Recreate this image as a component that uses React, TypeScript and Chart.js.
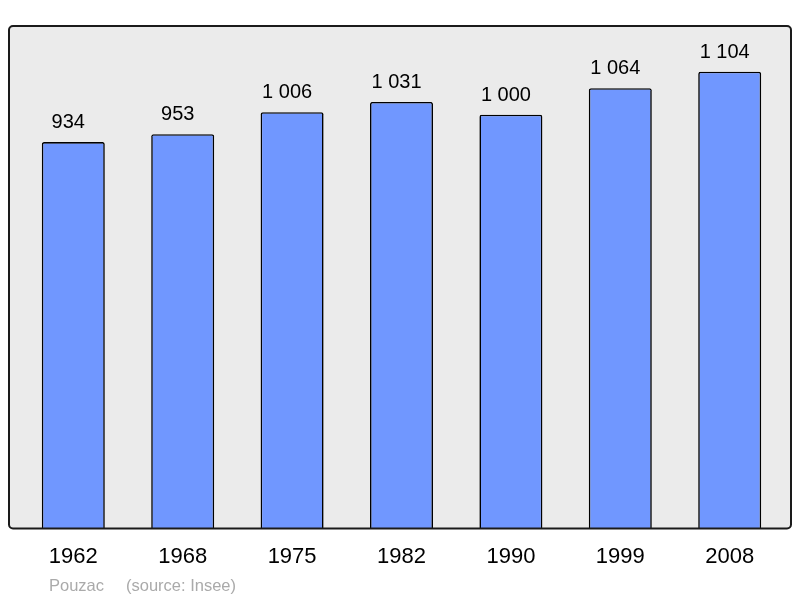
import React, { useEffect, useRef } from "react";
import { Chart, registerables } from "chart.js";

Chart.register(...registerables);

const years = ["1962", "1968", "1975", "1982", "1990", "1999", "2008"];
const population = [934, 953, 1006, 1031, 1000, 1064, 1104];
const valueLabels = ["934", "953", "1 006", "1 031", "1 000", "1 064", "1 104"];
const footnoteTown = "Pouzac";
const footnoteSource = "(source: Insee)";

const FONT = '"Liberation Sans", Arial, sans-serif';

const framePlugin = {
  id: "frame",
  beforeDatasetsDraw(chart: any) {
    const { ctx, chartArea } = chart;
    const x0 = chartArea.left - 9.6;
    const x1 = chartArea.right + 6.6;
    const y0 = chartArea.top;
    const y1 = chartArea.bottom;
    ctx.save();
    ctx.beginPath();
    ctx.roundRect(x0, y0, x1 - x0, y1 - y0, 4);
    ctx.fillStyle = "#ebebeb";
    ctx.fill();
    ctx.restore();
  },
  afterDatasetsDraw(chart: any) {
    const { ctx, chartArea } = chart;
    const x0 = chartArea.left - 9.6;
    const x1 = chartArea.right + 6.6;
    const y0 = chartArea.top;
    const y1 = chartArea.bottom;
    ctx.save();
    ctx.beginPath();
    ctx.roundRect(x0, y0, x1 - x0, y1 - y0, 4);
    ctx.lineWidth = 2;
    ctx.strokeStyle = "#1a1a1a";
    ctx.stroke();

    // value labels
    const meta = chart.getDatasetMeta(0);
    ctx.fillStyle = "#000";
    ctx.font = `20px ${FONT}`;
    ctx.textAlign = "center";
    ctx.textBaseline = "alphabetic";
    meta.data.forEach((bar: any, i: number) => {
      ctx.fillText(valueLabels[i], bar.x - 5, bar.y - 14);
    });

    // footnote
    ctx.fillStyle = "#aaaaaa";
    ctx.font = `16.5px ${FONT}`;
    ctx.textAlign = "left";
    ctx.fillText(footnoteTown, 49, 590.5);
    ctx.fillText(footnoteSource, 126, 590.5);
    ctx.restore();
  },
};

export default function App() {
  const canvasRef = useRef<HTMLCanvasElement | null>(null);

  useEffect(() => {
    if (!canvasRef.current) return;
    const chart = new Chart(canvasRef.current, {
      type: "bar",
      data: {
        labels: years,
        datasets: [
          {
            data: population,
            backgroundColor: "#7097ff",
            borderColor: "#000000",
            borderWidth: 1.6,
            borderRadius: 2,
            borderSkipped: "start",
            barPercentage: 0.576,
            categoryPercentage: 1,
          },
        ],
      },
      options: {
        animation: false,
        responsive: true,
        maintainAspectRatio: false,
        layout: { padding: { left: 18.6, right: 15.6, top: 26, bottom: 0 } },
        plugins: {
          legend: { display: false },
          tooltip: { enabled: false },
          title: { display: false },
        },
        scales: {
          y: { display: false, min: 0, max: 1214.4 },
          x: {
            grid: { display: false },
            border: { display: false },
            ticks: {
              color: "#000",
              font: { family: FONT, size: 22 },
              padding: 7,
              maxRotation: 0,
              autoSkip: false,
            },
            afterFit: (scale: any) => {
              scale.height = 69.5;
            },
          },
        },
      },
      plugins: [framePlugin],
    });
    return () => chart.destroy();
  }, []);

  return (
    <div style={{ position: "fixed", left: 0, top: 0, width: 800, height: 598, background: "#fff" }}>
      <canvas ref={canvasRef} />
    </div>
  );
}
